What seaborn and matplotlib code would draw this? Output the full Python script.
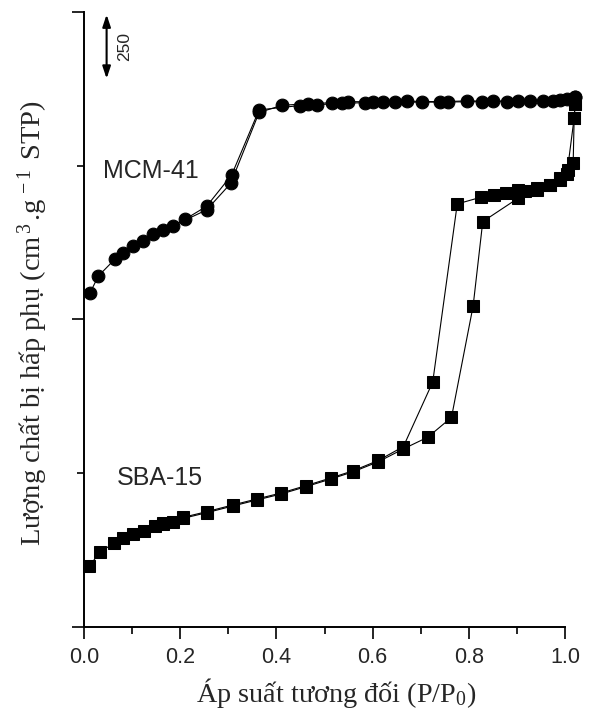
import matplotlib
matplotlib.use("Agg")
import matplotlib.pyplot as plt
from matplotlib.ticker import MultipleLocator
import seaborn as sns
import pandas as pd

# ---- data (relative pressure P/P0, adsorbed volume in arbitrary offset units) ----
mcm_ads_p = [0.012, 0.030, 0.064, 0.102, 0.144, 0.186, 0.255, 0.305, 0.364, 0.412,
             0.466, 0.516, 0.549, 0.601, 0.647, 0.703, 0.757, 0.827, 0.879, 0.927,
             0.975, 1.004, 1.021]
mcm_ads_v = [1302, 1370, 1435, 1487, 1532, 1566, 1628, 1731, 2008, 2036,
             2042, 2046, 2050, 2050, 2049, 2048, 2049, 2050, 2050, 2051,
             2054, 2062, 2070]
mcm_des_p = [1.021, 0.990, 0.954, 0.902, 0.850, 0.796, 0.740, 0.672, 0.622, 0.584,
             0.536, 0.484, 0.449, 0.364, 0.307, 0.255, 0.210, 0.165, 0.123, 0.082]
mcm_des_v = [2070, 2056, 2054, 2054, 2052, 2053, 2050, 2052, 2050, 2046,
             2044, 2038, 2035, 2018, 1764, 1642, 1591, 1549, 1506, 1461]

sba_ads_p = [0.011, 0.033, 0.063, 0.082, 0.102, 0.125, 0.148, 0.165, 0.186, 0.206,
             0.255, 0.309, 0.360, 0.410, 0.462, 0.514, 0.560, 0.612, 0.664, 0.715,
             0.764, 0.809, 0.829, 0.903, 0.941, 0.969, 0.990, 1.006, 1.017, 1.019, 1.021]
sba_ads_v = [238, 291, 329, 346, 362, 375, 394, 401, 411, 424,
             446, 472, 496, 519, 548, 578, 606, 645, 695, 741,
             818, 1253, 1582, 1674, 1705, 1725, 1752, 1783, 1811, 1986, 2041]
sba_des_p = [1.021, 1.019, 1.004, 0.990, 0.969, 0.941, 0.917, 0.903, 0.877, 0.852,
             0.825, 0.776, 0.725, 0.664, 0.612, 0.560, 0.514, 0.462, 0.410, 0.360,
             0.309, 0.255, 0.206, 0.165]
sba_des_v = [2041, 1986, 1768, 1745, 1725, 1712, 1703, 1705, 1694, 1686,
             1677, 1651, 956, 704, 650, 610, 582, 552, 523, 500,
             476, 450, 428, 405]

x_ticks = [0.0, 0.2, 0.4, 0.6, 0.8, 1.0]
x_tick_labels = ["0.0", "0.2", "0.4", "0.6", "0.8", "1.0"]
scale_bar = 250

sns.set_theme(style="ticks")
plt.rcParams["font.family"] = ["Liberation Sans", "DejaVu Sans"]
plt.rcParams["mathtext.fontset"] = "custom"
plt.rcParams["mathtext.rm"] = "Liberation Serif"
plt.rcParams["mathtext.it"] = "Liberation Serif:italic"

fig = plt.figure(figsize=(5.98, 7.17), dpi=100)
ax = fig.add_axes([84 / 598, 1 - 627 / 717, (565 - 84) / 598, (627 - 12) / 717])

def branch(p, v, marker, ms):
    df = pd.DataFrame({"p": p, "v": v})
    sns.lineplot(data=df, x="p", y="v", ax=ax, sort=False, estimator=None,
                 color="black", lw=0.8, marker=marker, markersize=ms,
                 markeredgecolor="black", markerfacecolor="black", clip_on=False)

branch(sba_ads_p, sba_ads_v, "s", 8.2)
branch(sba_des_p, sba_des_v, "s", 8.2)
branch(mcm_ads_p, mcm_ads_v, "o", 9.2)
branch(mcm_des_p, mcm_des_v, "o", 9.2)

ax.set_xlim(0, 1.0)
ax.set_ylim(0, 2400)
ax.xaxis.set_major_locator(MultipleLocator(0.2))
ax.xaxis.set_minor_locator(MultipleLocator(0.1))
ax.set_xticks(x_ticks)
ax.set_xticklabels(x_tick_labels, fontsize=15.5)
ax.yaxis.set_major_locator(MultipleLocator(1200))
ax.yaxis.set_minor_locator(MultipleLocator(600))
ax.set_yticklabels([])
ax.tick_params(axis="both", which="major", length=8.5, width=1.2, direction="out",
               color="black", pad=6)
ax.tick_params(axis="both", which="minor", length=5, width=1.2, direction="out",
               color="black")
for s in ["top", "right"]:
    ax.spines[s].set_visible(False)
for s in ["left", "bottom"]:
    ax.spines[s].set_linewidth(1.4)
    ax.spines[s].set_color("black")

ax.set_xlabel(r"Áp suất tương đối (P/P$_{0}$)", fontsize=20.3,
              family="Liberation Serif", labelpad=6)
ax.xaxis.label.set_x(0.524)
ax.set_ylabel(r"Lượng chất bị hấp phụ (cm$^{\,3\,}$.g$^{\,-1\,}$ STP)", fontsize=20.5,
              family="Liberation Serif", labelpad=10)
ax.yaxis.label.set_y(0.495)

ax.text(0.039, 1780, "MCM-41", fontsize=18, va="center", ha="left")
ax.text(0.068, 580, "SBA-15", fontsize=18, va="center", ha="left")

ax.annotate("", xy=(0.047, 2390), xytext=(0.047, 2390 - scale_bar),
            arrowprops=dict(arrowstyle="<|-|>,head_length=0.6,head_width=0.2",
                            color="black", lw=1.5, shrinkA=0, shrinkB=0))
ax.text(0.085, 2390 - scale_bar / 2, str(scale_bar), rotation=90, fontsize=12.5,
        va="center", ha="center")

fig.savefig("out.png", dpi=100)
